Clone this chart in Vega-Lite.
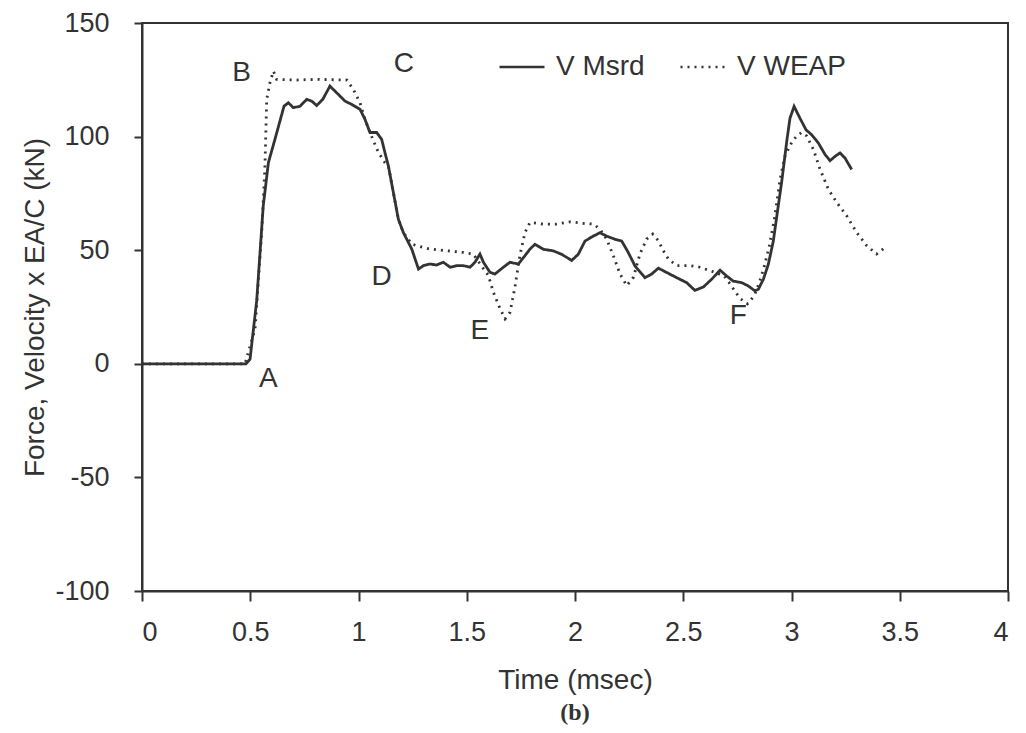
{
  "$schema": "https://vega.github.io/schema/vega-lite/v6.json",
  "width": 866,
  "height": 568,
  "autosize": {"type": "none"},
  "padding": {"left": 142, "top": 23, "right": 18, "bottom": 142},
  "background": "white",
  "config": {
    "view": {"stroke": "#333", "strokeWidth": 2},
    "axis": {
      "grid": false,
      "domainColor": "#333",
      "domainWidth": 2,
      "tickColor": "#333",
      "tickWidth": 2,
      "labelFont": "Liberation Sans",
      "labelFontSize": 27,
      "labelColor": "#333",
      "titleFont": "Liberation Sans",
      "titleFontSize": 28,
      "titleFontWeight": "normal",
      "titleColor": "#333"
    },
    "legend": {
      "orient": "none",
      "legendX": 356,
      "legendY": 20,
      "direction": "horizontal",
      "columns": 2,
      "symbolType": "stroke",
      "symbolSize": 2025,
      "symbolStrokeWidth": 2.6,
      "symbolStrokeColor": "#333",
      "labelFont": "Liberation Sans",
      "labelFontSize": 28,
      "labelColor": "#333",
      "labelOffset": 10,
      "columnPadding": 30
    }
  },
  "title": {
    "text": "(b)",
    "orient": "bottom",
    "anchor": "middle",
    "font": "Liberation Serif",
    "fontWeight": "bold",
    "fontSize": 24,
    "color": "#333",
    "offset": 7
  },
  "datasets": {
    "curves": [
      {"series": "V Msrd", "t": 0, "v": 0},
      {"series": "V Msrd", "t": 0.48, "v": 0},
      {"series": "V Msrd", "t": 0.499, "v": 2},
      {"series": "V Msrd", "t": 0.53, "v": 28},
      {"series": "V Msrd", "t": 0.56, "v": 69.5},
      {"series": "V Msrd", "t": 0.584, "v": 88.6},
      {"series": "V Msrd", "t": 0.614, "v": 98.8},
      {"series": "V Msrd", "t": 0.656, "v": 113.4},
      {"series": "V Msrd", "t": 0.676, "v": 114.9},
      {"series": "V Msrd", "t": 0.699, "v": 112.7},
      {"series": "V Msrd", "t": 0.73, "v": 113.4},
      {"series": "V Msrd", "t": 0.761, "v": 116.4},
      {"series": "V Msrd", "t": 0.784, "v": 115.6},
      {"series": "V Msrd", "t": 0.807, "v": 113.7},
      {"series": "V Msrd", "t": 0.835, "v": 116.4},
      {"series": "V Msrd", "t": 0.868, "v": 122.2},
      {"series": "V Msrd", "t": 0.899, "v": 119.3},
      {"series": "V Msrd", "t": 0.938, "v": 115.6},
      {"series": "V Msrd", "t": 0.968, "v": 114.2},
      {"series": "V Msrd", "t": 1.007, "v": 112},
      {"series": "V Msrd", "t": 1.03, "v": 107.6},
      {"series": "V Msrd", "t": 1.053, "v": 101.8},
      {"series": "V Msrd", "t": 1.084, "v": 101.8},
      {"series": "V Msrd", "t": 1.107, "v": 98.8},
      {"series": "V Msrd", "t": 1.122, "v": 93},
      {"series": "V Msrd", "t": 1.138, "v": 87.1},
      {"series": "V Msrd", "t": 1.161, "v": 75.4},
      {"series": "V Msrd", "t": 1.184, "v": 63.7},
      {"series": "V Msrd", "t": 1.207, "v": 57.8},
      {"series": "V Msrd", "t": 1.246, "v": 50.5},
      {"series": "V Msrd", "t": 1.277, "v": 41.7},
      {"series": "V Msrd", "t": 1.3, "v": 43.2},
      {"series": "V Msrd", "t": 1.33, "v": 43.9},
      {"series": "V Msrd", "t": 1.361, "v": 43.5},
      {"series": "V Msrd", "t": 1.392, "v": 44.7},
      {"series": "V Msrd", "t": 1.423, "v": 42.5},
      {"series": "V Msrd", "t": 1.454, "v": 43.2},
      {"series": "V Msrd", "t": 1.484, "v": 43.2},
      {"series": "V Msrd", "t": 1.515, "v": 42.5},
      {"series": "V Msrd", "t": 1.538, "v": 44.7},
      {"series": "V Msrd", "t": 1.561, "v": 48.3},
      {"series": "V Msrd", "t": 1.577, "v": 44.7},
      {"series": "V Msrd", "t": 1.607, "v": 40.3},
      {"series": "V Msrd", "t": 1.63, "v": 39.5},
      {"series": "V Msrd", "t": 1.669, "v": 42.5},
      {"series": "V Msrd", "t": 1.7, "v": 44.7},
      {"series": "V Msrd", "t": 1.738, "v": 43.9},
      {"series": "V Msrd", "t": 1.769, "v": 47.6},
      {"series": "V Msrd", "t": 1.792, "v": 50.5},
      {"series": "V Msrd", "t": 1.815, "v": 52.6},
      {"series": "V Msrd", "t": 1.854, "v": 50.4},
      {"series": "V Msrd", "t": 1.9, "v": 49.7},
      {"series": "V Msrd", "t": 1.938, "v": 48.2},
      {"series": "V Msrd", "t": 1.985, "v": 45.5},
      {"series": "V Msrd", "t": 2.015, "v": 48.2},
      {"series": "V Msrd", "t": 2.046, "v": 54},
      {"series": "V Msrd", "t": 2.077, "v": 55.8},
      {"series": "V Msrd", "t": 2.115, "v": 57.7},
      {"series": "V Msrd", "t": 2.146, "v": 56.2},
      {"series": "V Msrd", "t": 2.185, "v": 54.8},
      {"series": "V Msrd", "t": 2.216, "v": 54},
      {"series": "V Msrd", "t": 2.246, "v": 49},
      {"series": "V Msrd", "t": 2.277, "v": 43.1},
      {"series": "V Msrd", "t": 2.323, "v": 37.9},
      {"series": "V Msrd", "t": 2.354, "v": 39.5},
      {"series": "V Msrd", "t": 2.385, "v": 42.1},
      {"series": "V Msrd", "t": 2.423, "v": 40.2},
      {"series": "V Msrd", "t": 2.47, "v": 37.9},
      {"series": "V Msrd", "t": 2.516, "v": 35.7},
      {"series": "V Msrd", "t": 2.554, "v": 32.3},
      {"series": "V Msrd", "t": 2.593, "v": 33.8},
      {"series": "V Msrd", "t": 2.631, "v": 37.2},
      {"series": "V Msrd", "t": 2.67, "v": 41.2},
      {"series": "V Msrd", "t": 2.701, "v": 38.6},
      {"series": "V Msrd", "t": 2.731, "v": 36.4},
      {"series": "V Msrd", "t": 2.77, "v": 35.7},
      {"series": "V Msrd", "t": 2.8, "v": 34.3},
      {"series": "V Msrd", "t": 2.831, "v": 32.1},
      {"series": "V Msrd", "t": 2.847, "v": 32.8},
      {"series": "V Msrd", "t": 2.87, "v": 37.2},
      {"series": "V Msrd", "t": 2.893, "v": 43.8},
      {"series": "V Msrd", "t": 2.916, "v": 54},
      {"series": "V Msrd", "t": 2.931, "v": 64.2},
      {"series": "V Msrd", "t": 2.955, "v": 80.3},
      {"series": "V Msrd", "t": 2.978, "v": 97.9},
      {"series": "V Msrd", "t": 2.993, "v": 108.1},
      {"series": "V Msrd", "t": 3.012, "v": 113.3},
      {"series": "V Msrd", "t": 3.039, "v": 108.1},
      {"series": "V Msrd", "t": 3.067, "v": 103},
      {"series": "V Msrd", "t": 3.093, "v": 100.8},
      {"series": "V Msrd", "t": 3.124, "v": 97.2},
      {"series": "V Msrd", "t": 3.155, "v": 92.1},
      {"series": "V Msrd", "t": 3.178, "v": 89.4},
      {"series": "V Msrd", "t": 3.201, "v": 91.3},
      {"series": "V Msrd", "t": 3.224, "v": 92.8},
      {"series": "V Msrd", "t": 3.247, "v": 90.6},
      {"series": "V Msrd", "t": 3.278, "v": 85.5},
      {"series": "V WEAP", "t": 0, "v": 0},
      {"series": "V WEAP", "t": 0.476, "v": 0},
      {"series": "V WEAP", "t": 0.522, "v": 15.4},
      {"series": "V WEAP", "t": 0.553, "v": 57.8},
      {"series": "V WEAP", "t": 0.568, "v": 87.1},
      {"series": "V WEAP", "t": 0.576, "v": 116.4},
      {"series": "V WEAP", "t": 0.591, "v": 123.7},
      {"series": "V WEAP", "t": 0.607, "v": 128.8},
      {"series": "V WEAP", "t": 0.622, "v": 125.2},
      {"series": "V WEAP", "t": 0.715, "v": 124.9},
      {"series": "V WEAP", "t": 0.807, "v": 125.2},
      {"series": "V WEAP", "t": 0.946, "v": 124.9},
      {"series": "V WEAP", "t": 0.976, "v": 120.8},
      {"series": "V WEAP", "t": 1.007, "v": 114.9},
      {"series": "V WEAP", "t": 1.03, "v": 107.6},
      {"series": "V WEAP", "t": 1.053, "v": 101.8},
      {"series": "V WEAP", "t": 1.092, "v": 93},
      {"series": "V WEAP", "t": 1.122, "v": 88.6},
      {"series": "V WEAP", "t": 1.138, "v": 87.1},
      {"series": "V WEAP", "t": 1.161, "v": 75.4},
      {"series": "V WEAP", "t": 1.184, "v": 63.7},
      {"series": "V WEAP", "t": 1.207, "v": 57.8},
      {"series": "V WEAP", "t": 1.246, "v": 52.7},
      {"series": "V WEAP", "t": 1.269, "v": 52},
      {"series": "V WEAP", "t": 1.33, "v": 50.5},
      {"series": "V WEAP", "t": 1.407, "v": 49.8},
      {"series": "V WEAP", "t": 1.484, "v": 49},
      {"series": "V WEAP", "t": 1.53, "v": 48.3},
      {"series": "V WEAP", "t": 1.6, "v": 38.8},
      {"series": "V WEAP", "t": 1.623, "v": 31.5},
      {"series": "V WEAP", "t": 1.654, "v": 24.2},
      {"series": "V WEAP", "t": 1.677, "v": 19.8},
      {"series": "V WEAP", "t": 1.7, "v": 22.7},
      {"series": "V WEAP", "t": 1.723, "v": 34},
      {"series": "V WEAP", "t": 1.746, "v": 48},
      {"series": "V WEAP", "t": 1.769, "v": 57.8},
      {"series": "V WEAP", "t": 1.792, "v": 62.2},
      {"series": "V WEAP", "t": 1.854, "v": 61.5},
      {"series": "V WEAP", "t": 1.915, "v": 61.5},
      {"series": "V WEAP", "t": 1.977, "v": 62.5},
      {"series": "V WEAP", "t": 2.038, "v": 61.8},
      {"series": "V WEAP", "t": 2.085, "v": 61.5},
      {"series": "V WEAP", "t": 2.115, "v": 59.3},
      {"series": "V WEAP", "t": 2.146, "v": 54.9},
      {"series": "V WEAP", "t": 2.177, "v": 47.6},
      {"series": "V WEAP", "t": 2.208, "v": 39.5},
      {"series": "V WEAP", "t": 2.239, "v": 34.4},
      {"series": "V WEAP", "t": 2.27, "v": 38.1},
      {"series": "V WEAP", "t": 2.3, "v": 48.3},
      {"series": "V WEAP", "t": 2.331, "v": 54.9},
      {"series": "V WEAP", "t": 2.359, "v": 57.1},
      {"series": "V WEAP", "t": 2.385, "v": 54.2},
      {"series": "V WEAP", "t": 2.408, "v": 49.8},
      {"series": "V WEAP", "t": 2.431, "v": 46.1},
      {"series": "V WEAP", "t": 2.47, "v": 43.2},
      {"series": "V WEAP", "t": 2.531, "v": 43.2},
      {"series": "V WEAP", "t": 2.577, "v": 42.5},
      {"series": "V WEAP", "t": 2.623, "v": 41},
      {"series": "V WEAP", "t": 2.688, "v": 38.8},
      {"series": "V WEAP", "t": 2.711, "v": 35.9},
      {"series": "V WEAP", "t": 2.742, "v": 31.5},
      {"series": "V WEAP", "t": 2.766, "v": 28.5},
      {"series": "V WEAP", "t": 2.797, "v": 26.4},
      {"series": "V WEAP", "t": 2.828, "v": 30},
      {"series": "V WEAP", "t": 2.852, "v": 35.9},
      {"series": "V WEAP", "t": 2.875, "v": 43.2},
      {"series": "V WEAP", "t": 2.898, "v": 52},
      {"series": "V WEAP", "t": 2.921, "v": 63.7},
      {"series": "V WEAP", "t": 2.947, "v": 81.2},
      {"series": "V WEAP", "t": 2.97, "v": 91.5},
      {"series": "V WEAP", "t": 3.001, "v": 97.4},
      {"series": "V WEAP", "t": 3.024, "v": 100.3},
      {"series": "V WEAP", "t": 3.047, "v": 101.8},
      {"series": "V WEAP", "t": 3.07, "v": 100.3},
      {"series": "V WEAP", "t": 3.101, "v": 94.4},
      {"series": "V WEAP", "t": 3.132, "v": 85.6},
      {"series": "V WEAP", "t": 3.17, "v": 76.9},
      {"series": "V WEAP", "t": 3.209, "v": 71},
      {"series": "V WEAP", "t": 3.255, "v": 65.1},
      {"series": "V WEAP", "t": 3.301, "v": 57.8},
      {"series": "V WEAP", "t": 3.347, "v": 52},
      {"series": "V WEAP", "t": 3.393, "v": 48.3},
      {"series": "V WEAP", "t": 3.432, "v": 51.2}
    ],
    "points": [
      {"label": "A", "t": 0.583, "v": -6.6},
      {"label": "B", "t": 0.46, "v": 128.1},
      {"label": "C", "t": 1.21, "v": 131.8},
      {"label": "D", "t": 1.107, "v": 38.1},
      {"label": "E", "t": 1.561, "v": 14.6},
      {"label": "F", "t": 2.754, "v": 20.9}
    ]
  },
  "layer": [
    {
      "mark": {"type": "rule", "color": "#333", "strokeWidth": 2.5},
      "encoding": {"y": {"datum": 0, "type": "quantitative"}}
    },
    {
      "data": {"name": "curves"},
      "mark": {"type": "line", "color": "#333", "strokeWidth": 2.8},
      "encoding": {
        "x": {
          "field": "t",
          "type": "quantitative",
          "scale": {"domain": [0, 4], "nice": false},
          "axis": {
            "title": "Time (msec)",
            "values": [0, 0.5, 1, 1.5, 2, 2.5, 3, 3.5, 4],
            "labelExpr": "'' + datum.value",
            "tickSize": 10,
            "labelPadding": 18,
            "titlePadding": 21
          }
        },
        "y": {
          "field": "v",
          "type": "quantitative",
          "scale": {"domain": [-100, 150], "nice": false},
          "axis": {
            "title": "Force, Velocity x EA/C (kN)",
            "values": [-100, -50, 0, 50, 100, 150],
            "labelExpr": "'' + datum.value",
            "tickSize": 8,
            "labelPadding": 25,
            "titlePadding": 5
          }
        },
        "strokeDash": {
          "field": "series",
          "type": "nominal",
          "scale": {"domain": ["V Msrd", "V WEAP"], "range": [[1, 0], [2, 5]]},
          "legend": {"title": null}
        },
        "order": {"field": "t", "type": "quantitative"}
      }
    },
    {
      "data": {"name": "points"},
      "mark": {"type": "text", "font": "Liberation Sans", "fontSize": 28, "color": "#333", "align": "center", "baseline": "middle"},
      "encoding": {
        "x": {"field": "t", "type": "quantitative"},
        "y": {"field": "v", "type": "quantitative"},
        "text": {"field": "label"}
      }
    }
  ]
}
